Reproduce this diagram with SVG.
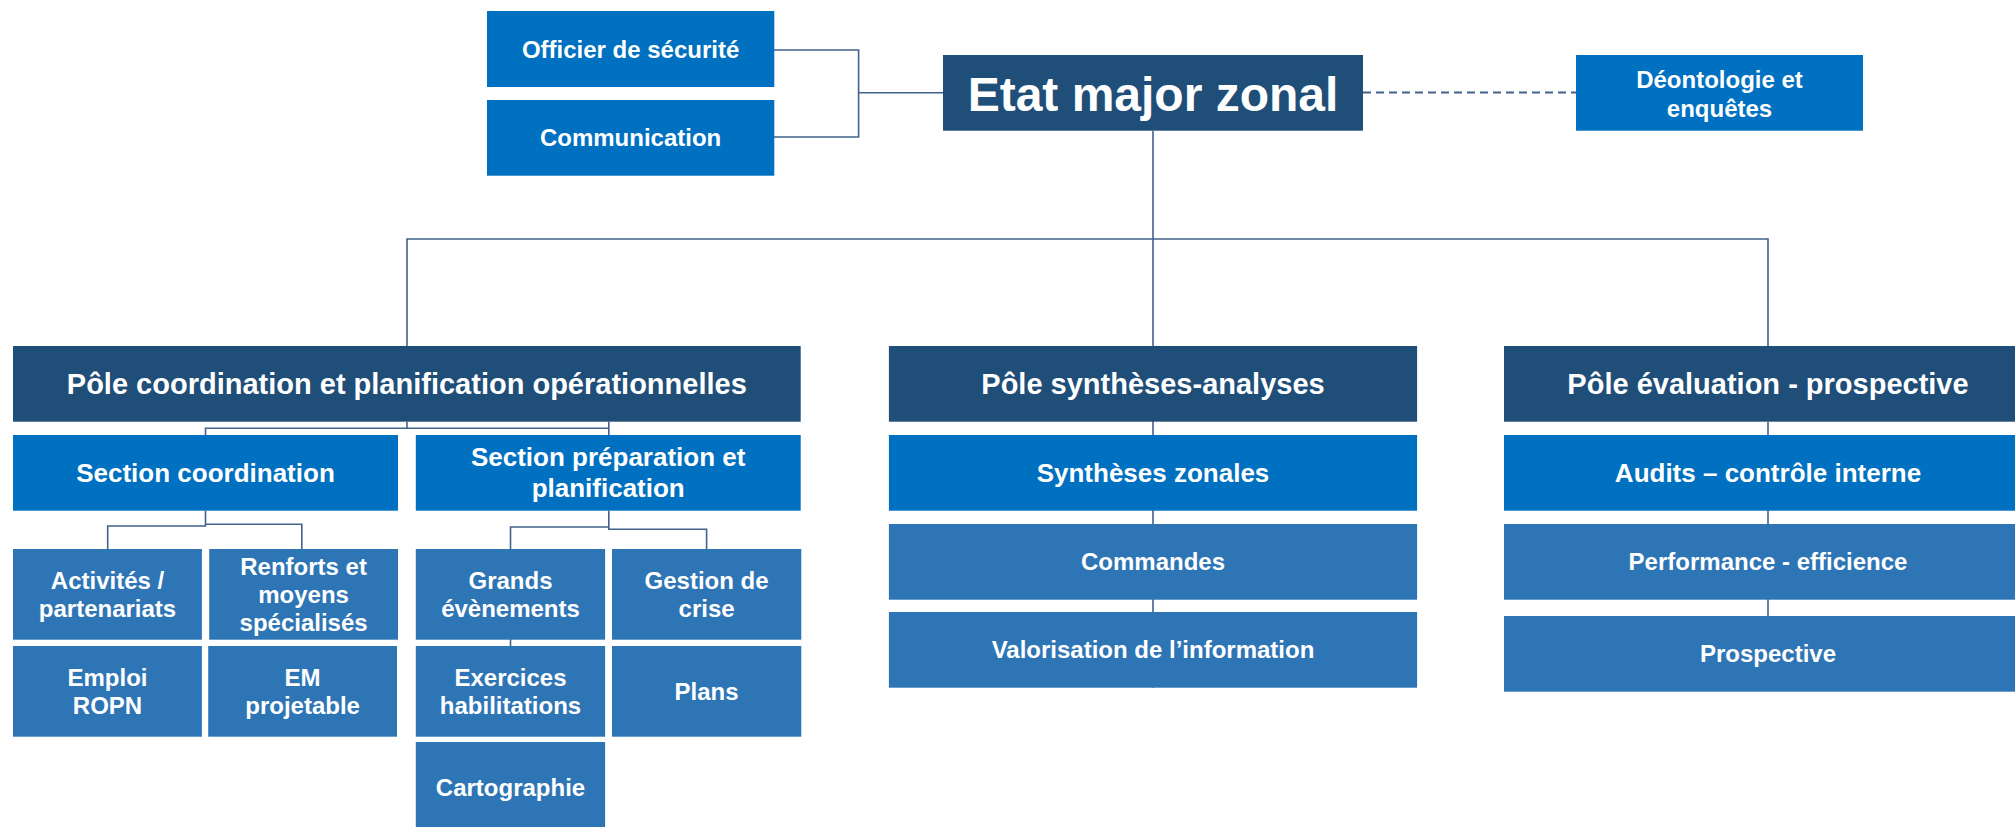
<svg xmlns="http://www.w3.org/2000/svg" width="2015" height="827" viewBox="0 0 2015 827">
<style>
.dark{fill:#1F4E79}
.mid{fill:#0070C0}
.leaf{fill:#2E75B6}
text{font-family:"Liberation Sans",Arial,sans-serif;font-weight:bold;fill:#FFFFFF;text-anchor:middle}
.f48{font-size:48px}
.f29{font-size:29px}
.f26{font-size:26px}
.f24{font-size:24px}
.ln{fill:none;stroke:#41638C;stroke-width:1.6}
.dash{fill:none;stroke:#41638C;stroke-width:2;stroke-dasharray:8 5}
</style>
<rect width="2015" height="827" fill="#FFFFFF"/>
<g id="connectors">
<path class="ln" d="M774 50 H858.6 V137 H774 M858.6 92.7 H943"/>
<path class="dash" d="M1363 92.5 H1576"/>
<path class="ln" d="M1153 130.7 V687.7 M407 346 V239 H1768 V346"/>
<path class="ln" d="M407 421.7 V428.3 M205.5 435 V428.3 H608.8 M608.8 421.7 V435"/>
<path class="ln" d="M205.5 510.7 V526 H107.7 V549 M205.5 524.3 H301.8 V549"/>
<path class="ln" d="M608.8 510.7 V527 H510.5 V549 M608.8 527 V529.3 H706.6 V549 M510.5 639 V646"/>
<path class="ln" d="M1768 421.7 V616"/>
</g>
<g id="officier"><rect class="mid" x="487" y="11" width="287.3" height="76"/><text class="f24" x="630.6" y="57.5">Officier de sécurité</text></g>
<g id="communication"><rect class="mid" x="487" y="100" width="287.3" height="75.7"/><text class="f24" x="630.6" y="146.3">Communication</text></g>
<g id="etat-major"><rect class="dark" x="943" y="55" width="420" height="75.7"/><text class="f48" x="1153" y="110.5">Etat major zonal</text></g>
<g id="deontologie"><rect class="mid" x="1576" y="55" width="287" height="75.7"/><text class="f24" x="1719.5" y="88.3">Déontologie et</text><text class="f24" x="1719.5" y="116.6">enquêtes</text></g>

<g id="pole-coord"><rect class="dark" x="13" y="346" width="787.7" height="75.7"/><text class="f29" x="406.8" y="394.2">Pôle coordination et planification opérationnelles</text></g>
<g id="section-coord"><rect class="mid" x="13" y="435" width="385" height="75.7"/><text class="f26" x="205.5" y="482.2">Section coordination</text></g>
<g id="section-prep"><rect class="mid" x="415.8" y="435" width="384.9" height="75.7"/><text class="f26" x="608.2" y="466.4">Section préparation et</text><text class="f26" x="608.2" y="497">planification</text></g>
<g id="activites"><rect class="leaf" x="13" y="549" width="188.9" height="90.7"/><text class="f24" x="107.5" y="589.3">Activités /</text><text class="f24" x="107.5" y="617.3">partenariats</text></g>
<g id="renforts"><rect class="leaf" x="209.2" y="549" width="188.8" height="90.7"/><text class="f24" x="303.6" y="574.5">Renforts et</text><text class="f24" x="303.6" y="602.8">moyens</text><text class="f24" x="303.6" y="631">spécialisés</text></g>
<g id="emploi"><rect class="leaf" x="13" y="646" width="188.9" height="90.7"/><text class="f24" x="107.5" y="685.8">Emploi</text><text class="f24" x="107.5" y="713.8">ROPN</text></g>
<g id="em-projetable"><rect class="leaf" x="208.2" y="646" width="188.8" height="90.7"/><text class="f24" x="302.6" y="685.8">EM</text><text class="f24" x="302.6" y="713.8">projetable</text></g>
<g id="grands"><rect class="leaf" x="415.8" y="549" width="189.3" height="90.7"/><text class="f24" x="510.5" y="589.3">Grands</text><text class="f24" x="510.5" y="617.3">évènements</text></g>
<g id="gestion"><rect class="leaf" x="612" y="549" width="189.3" height="90.7"/><text class="f24" x="706.6" y="589.3">Gestion de</text><text class="f24" x="706.6" y="617.3">crise</text></g>
<g id="exercices"><rect class="leaf" x="415.8" y="646" width="189.3" height="90.7"/><text class="f24" x="510.5" y="685.8">Exercices</text><text class="f24" x="510.5" y="713.8">habilitations</text></g>
<g id="plans"><rect class="leaf" x="612" y="646" width="189.3" height="90.7"/><text class="f24" x="706.6" y="700">Plans</text></g>
<g id="cartographie"><rect class="leaf" x="415.8" y="742" width="189.3" height="90.7"/><text class="f24" x="510.5" y="795.7">Cartographie</text></g>

<g id="pole-synth"><rect class="dark" x="888.9" y="346" width="528.2" height="75.7"/><text class="f29" x="1153" y="394.2">Pôle synthèses-analyses</text></g>
<g id="synth-zonales"><rect class="mid" x="888.9" y="435" width="528.2" height="75.7"/><text class="f26" x="1153" y="482.2">Synthèses zonales</text></g>
<g id="commandes"><rect class="leaf" x="888.9" y="524" width="528.2" height="75.7"/><text class="f24" x="1153" y="570.3">Commandes</text></g>
<g id="valorisation"><rect class="leaf" x="888.9" y="612" width="528.2" height="75.7"/><text class="f24" x="1153" y="658.3">Valorisation de l’information</text></g>

<g id="pole-eval"><rect class="dark" x="1504" y="346" width="528" height="75.7"/><text class="f29" x="1768" y="394.2">Pôle évaluation - prospective</text></g>
<g id="audits"><rect class="mid" x="1504" y="435" width="528" height="75.7"/><text class="f26" x="1768" y="482.2">Audits – contrôle interne</text></g>
<g id="performance"><rect class="leaf" x="1504" y="524" width="528" height="75.7"/><text class="f24" x="1768" y="570.3">Performance - efficience</text></g>
<g id="prospective"><rect class="leaf" x="1504" y="616" width="528" height="75.7"/><text class="f24" x="1768" y="662.3">Prospective</text></g>
</svg>
